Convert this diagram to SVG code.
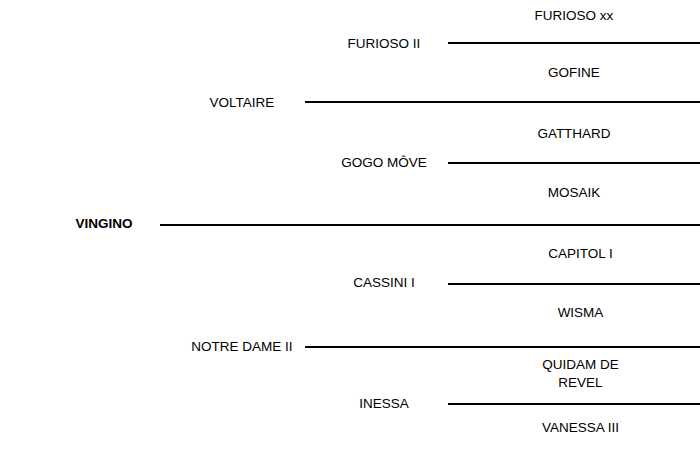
<svg xmlns="http://www.w3.org/2000/svg" width="700" height="450" viewBox="0 0 700 450">
<style>
text{font-family:"Liberation Sans",Arial,sans-serif;font-size:13.5px;fill:#000;text-anchor:middle}
.b{font-weight:bold}
line{stroke:#000;stroke-width:2}
</style>
<rect width="700" height="450" fill="#fff"/>
<g id="connectors">
<line x1="448" y1="43" x2="700" y2="43"/>
<line x1="305" y1="102" x2="700" y2="102"/>
<line x1="448" y1="163" x2="700" y2="163"/>
<line x1="160" y1="225" x2="700" y2="225"/>
<line x1="448" y1="284" x2="700" y2="284"/>
<line x1="305" y1="347" x2="700" y2="347"/>
<line x1="448" y1="404" x2="700" y2="404"/>
</g>
<g id="vingino"><text class="b" x="104" y="228">VINGINO</text></g>
<g id="voltaire"><text x="242" y="107">VOLTAIRE</text></g>
<g id="notre-dame-ii"><text x="242" y="351">NOTRE DAME II</text></g>
<g id="furioso-ii"><text x="384" y="48">FURIOSO II</text></g>
<g id="gogo-move"><text x="384" y="167">GOGO MÔVE</text></g>
<g id="cassini-i"><text x="384" y="287">CASSINI I</text></g>
<g id="inessa"><text x="384" y="408">INESSA</text></g>
<g id="furioso-xx"><text x="574" y="20">FURIOSO xx</text></g>
<g id="gofine"><text x="574" y="77">GOFINE</text></g>
<g id="gatthard"><text x="574" y="138">GATTHARD</text></g>
<g id="mosaik"><text x="574" y="197">MOSAIK</text></g>
<g id="capitol-i"><text x="580.5" y="258">CAPITOL I</text></g>
<g id="wisma"><text x="580.5" y="317">WISMA</text></g>
<g id="quidam-de-revel"><text x="580.5" y="369">QUIDAM DE</text><text x="580.5" y="387">REVEL</text></g>
<g id="vanessa-iii"><text x="580.5" y="432">VANESSA III</text></g>
</svg>
